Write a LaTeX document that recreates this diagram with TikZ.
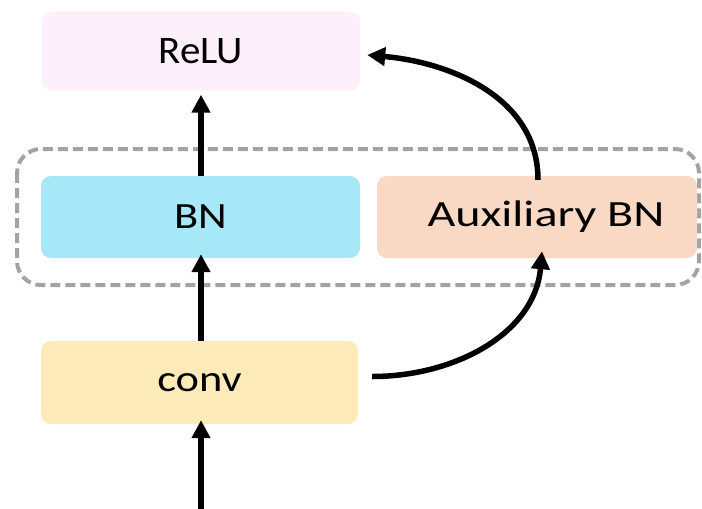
\documentclass[tikz,border=0pt]{standalone}
\usepackage{fontspec}
\setmainfont[FakeStretch=1.2]{Carlito}
\newfontfamily\relufont[FakeStretch=1.05]{Carlito}
\newfontfamily\auxfont[FakeStretch=1.3]{Carlito}
\usetikzlibrary{arrows.meta}
\definecolor{relucol}{HTML}{FDF0FA}
\definecolor{bncol}{HTML}{A6E8F8}
\definecolor{auxcol}{HTML}{F9D9C4}
\definecolor{convcol}{HTML}{FCEBB9}
\definecolor{dashcol}{HTML}{A3A3A3}
\tikzset{
  blk/.style={rounded corners=10pt, inner sep=0pt, font=\fontsize{37}{40}\selectfont, text=black},
  conn/.style={line width=5.5pt, -{Triangle[length=18pt,width=18pt]}},
}
\begin{document}
\begin{tikzpicture}[x=1pt,y=-1pt]
\useasboundingbox (0,0) rectangle (702,509);
\begin{scope}
\clip (0,0) rectangle (702,509);
\draw[dashcol, line width=4pt, dash pattern=on 10pt off 5pt, rounded corners=24pt] (17,149) rectangle (699,285);
\end{scope}
\node[blk, fill=relucol, minimum width=318pt, minimum height=79pt, font=\relufont\fontsize{39}{42}\selectfont] (relu) at (201,51) {ReLU};
\node[blk, fill=bncol, minimum width=319pt, minimum height=82pt] (bn) at (200.5,217) {BN};
\node[blk, fill=auxcol, minimum width=320pt, minimum height=82pt, font=\auxfont\fontsize{37}{40}\selectfont] (aux) at (537,217) {\hspace{18pt}Auxiliary BN};
\node[blk, fill=convcol, minimum width=317pt, minimum height=83pt] (conv) at (199.5,382.5) {conv};
\coordinate (in) at (201,509);
\draw[conn] (in) -- ([yshift=4pt]conv.south -| 201,0);
\draw[conn] ([xshift=1.5pt]conv.north) -- ([xshift=0.5pt,yshift=4pt]bn.south);
\draw[conn] ([xshift=0.5pt]bn.north) -- ([yshift=-4pt]relu.south);
\draw[conn] ([xshift=14pt,yshift=6pt]conv.east) to[out=0,in=-95] ([xshift=5pt,yshift=7pt]aux.south);
\draw[conn] ([xshift=1pt,yshift=-4pt]aux.north) to[out=90,in=-5] ([xshift=7pt,yshift=-4pt]relu.east);
\end{tikzpicture}
\end{document}
